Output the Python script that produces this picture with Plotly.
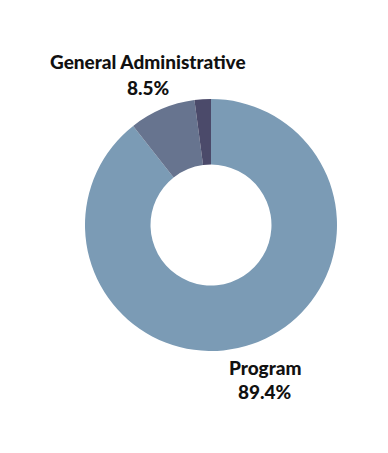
import plotly.graph_objects as go

categories = ["Program", "General Administrative", "Fundraising"]
values = [89.4, 8.5, 2.1]
colors = ["#7B9BB5", "#67748F", "#4B4A6A"]

W, H = 388, 453
off = 8  # page body margin
cx, cy, r = 211 - off, 225 - off, 126
fig = go.Figure(go.Pie(
    labels=categories,
    values=values,
    hole=0.48,
    sort=False,
    direction="clockwise",
    rotation=0,
    marker=dict(colors=colors, line=dict(width=0)),
    textinfo="none",
    hoverinfo="label+percent",
    showlegend=False,
    domain=dict(x=[(cx - r) / W, (cx + r) / W], y=[1 - (cy + r) / H, 1 - (cy - r) / H]),
))

font = dict(family="Lato", size=19, color="#111111", weight=900)
label_pos = {
    "General Administrative": ((148, 61), (148, 87)),
    "Program": ((265, 367), (265, 391)),
}
annotations = []
for cat, val in zip(categories, values):
    if cat in label_pos:
        (x1, y1), (x2, y2) = label_pos[cat]
        annotations.append(dict(text=f"{cat}", x=(x1 - off) / W, y=1 - (y1 - off) / H, xref="paper", yref="paper",
                                showarrow=False, font=font, xanchor="center", yanchor="middle"))
        annotations.append(dict(text=f"{val}%", x=(x2 - off) / W, y=1 - (y2 - off) / H, xref="paper", yref="paper",
                                showarrow=False, font=font, xanchor="center", yanchor="middle"))

fig.update_layout(
    width=W, height=H,
    margin=dict(l=0, r=0, t=0, b=0),
    paper_bgcolor="white",
    plot_bgcolor="white",
    annotations=annotations,
)

fig.write_html("out.html")
